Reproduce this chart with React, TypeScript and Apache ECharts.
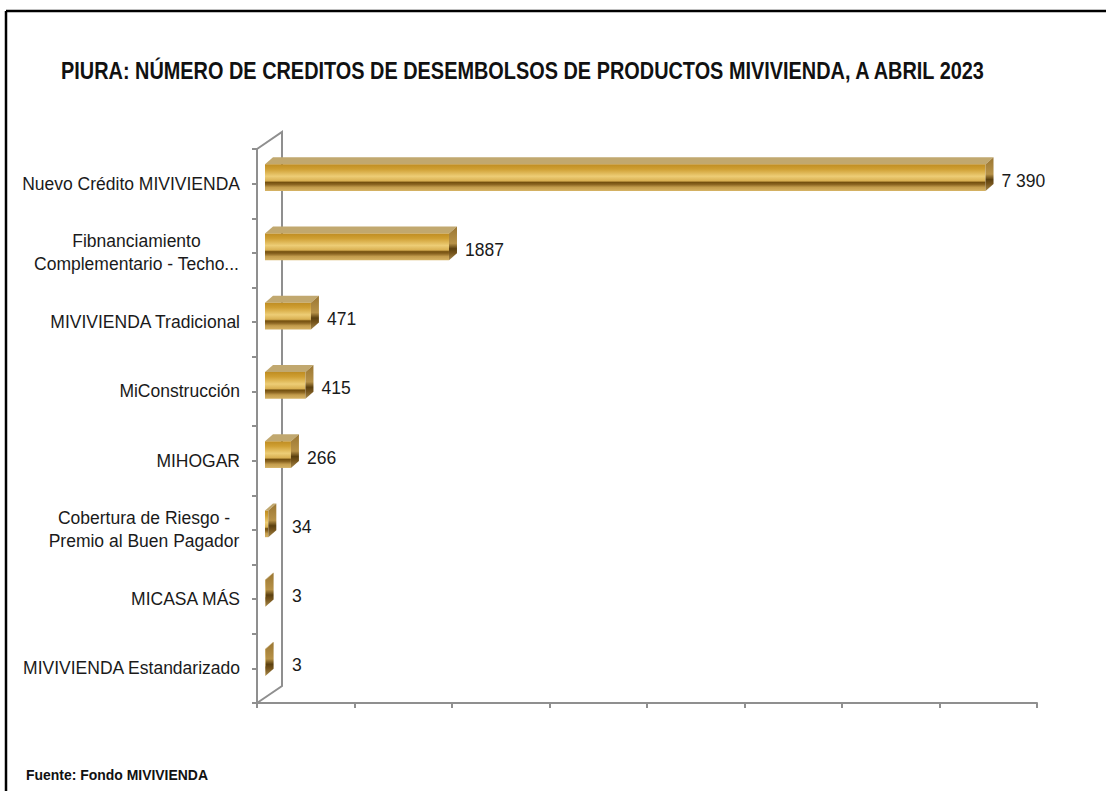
import React, { useEffect, useRef } from "react";
import * as echarts from "echarts";

// ---------- DATA ----------
const categories: string[] = [
  "Nuevo Crédito MIVIVIENDA",
  "Fibnanciamiento\nComplementario - Techo...",
  "MIVIVIENDA Tradicional",
  "MiConstrucción",
  "MIHOGAR",
  "Cobertura de Riesgo -\nPremio al Buen Pagador",
  "MICASA MÁS",
  "MIVIVIENDA Estandarizado",
];
const values: number[] = [7390, 1887, 471, 415, 266, 34, 3, 3];
const valueLabels: string[] = ["7 390", "1887", "471", "415", "266", "34", "3", "3"];
const axisMin = 0;
const axisMax = 8000;
const axisInterval = 1000;
const titleText = "PIURA: NÚMERO DE CREDITOS DE DESEMBOLSOS DE PRODUCTOS MIVIVIENDA, A ABRIL 2023";
const sourceText = "Fuente: Fondo MIVIVIENDA";

// ---------- LAYOUT / STYLE ----------
const W = 1106;
const H = 791;
const GRID_LEFT = 257;
const GRID_TOP = 149;
const GRID_W = 780;
const GRID_H = 554;
const WALL_DX = 25;
const WALL_DY = -17;
const BAR_FRONT_OFF = 8;
const BAR_DX = 8;
const BAR_DY = -7;
const BAR_RATIO = 0.385;
const BAR_LIFT = 6;
const AXIS_COLOR = "#8f8f8f";
const FONT = '"Liberation Sans", Arial, sans-serif';
const LABEL_SIZE = 17.5;

const frontGradient = {
  type: "linear",
  x: 0,
  y: 0,
  x2: 0,
  y2: 1,
  colorStops: [
    { offset: 0, color: "#bf8d22" },
    { offset: 0.18, color: "#cf9f33" },
    { offset: 0.45, color: "#edcd76" },
    { offset: 0.62, color: "#d9b052" },
    { offset: 0.68, color: "#74500f" },
    { offset: 0.76, color: "#8c6622" },
    { offset: 0.86, color: "#c39c4c" },
    { offset: 1, color: "#d6b365" },
  ],
};
const sideGradient = {
  type: "linear",
  x: 0,
  y: 0,
  x2: 0,
  y2: 1,
  colorStops: [
    { offset: 0, color: "#9a7632" },
    { offset: 0.5, color: "#b79248" },
    { offset: 0.66, color: "#5b400f" },
    { offset: 0.78, color: "#74531b" },
    { offset: 1, color: "#a6884a" },
  ],
};
const topColor = "#c1a86f";

function measure(text: string, size: number): number {
  const c = document.createElement("canvas");
  const ctx = c.getContext("2d");
  if (!ctx) return text.length * size * 0.5;
  ctx.font = `${size}px "Liberation Sans", Arial, sans-serif`;
  return ctx.measureText(text).width;
}

export default function App() {
  const ref = useRef<HTMLDivElement>(null);

  useEffect(() => {
    document.body.style.margin = "0";
    if (!ref.current) return;
    const chart = echarts.init(ref.current, null, { renderer: "svg" });

    const rich: Record<string, any> = {};
    categories.forEach((c, i) => {
      const lines = c.split("\n");
      const wMax = Math.max(...lines.map((l) => measure(l, LABEL_SIZE)));
      rich["c" + i] = {
        width: Math.ceil(wMax) + 1,
        align: "center",
        fontSize: LABEL_SIZE,
        fontFamily: FONT,
        color: "#1a1a1a",
        lineHeight: 23,
      };
    });

    const wallX = GRID_LEFT + WALL_DX;
    const bottomY = GRID_TOP + GRID_H;

    const option: any = {
      animation: false,
      backgroundColor: "#ffffff",
      grid: {
        left: GRID_LEFT,
        top: GRID_TOP,
        width: GRID_W,
        height: GRID_H,
        containLabel: false,
      },
      xAxis: {
        type: "value",
        position: "bottom",
        min: axisMin,
        max: axisMax,
        interval: axisInterval,
        axisLine: { show: true, onZero: false, lineStyle: { color: AXIS_COLOR, width: 2 } },
        axisTick: { show: true, length: 5, lineStyle: { color: AXIS_COLOR, width: 2 } },
        axisLabel: { show: false },
        splitLine: { show: false },
      },
      yAxis: [
        {
          type: "category",
          data: categories,
          inverse: true,
          position: "left",
          axisLine: { show: true, onZero: false, lineStyle: { color: AXIS_COLOR, width: 2 } },
          axisTick: { show: false },
          axisLabel: {
            margin: 17,
            fontSize: LABEL_SIZE,
            fontFamily: FONT,
            color: "#1a1a1a",
            lineHeight: 23,
            formatter: (v: string) => {
              const i = categories.indexOf(v);
              if (v.indexOf("\n") < 0) return v;
              return v
                .split("\n")
                .map((l) => `{c${i}|${l}}`)
                .join("\n");
            },
            rich,
          },
          splitLine: { show: false },
        },
        {
          type: "value",
          min: 0,
          max: categories.length * 2,
          interval: 1,
          inverse: true,
          position: "left",
          axisLine: { show: false, onZero: false },
          axisTick: { show: true, length: 5, lineStyle: { color: AXIS_COLOR, width: 2 } },
          axisLabel: { show: false },
          splitLine: { show: false },
        },
      ],
      series: [
        {
          type: "custom",
          z: 5,
          data: values.map((v, i) => [v, i]),
          encode: { x: 0, y: 1 },
          renderItem: (params: any, api: any) => {
            const idx = api.value(1);
            const val = api.value(0);
            const start = api.coord([0, idx]);
            const end = api.coord([val, idx]);
            const band = api.size([0, 1])[1];
            const bh = band * BAR_RATIO;
            const x0 = start[0] + BAR_FRONT_OFF;
            const x1 = Math.max(end[0] + BAR_FRONT_OFF, x0 + 0.6);
            const yc = start[1] - BAR_LIFT;
            const y0 = yc - bh / 2;
            const y1 = yc + bh / 2;
            const labelX = Math.max(x1 + BAR_DX + 8, GRID_LEFT + WALL_DX + 10);
            return {
              type: "group",
              children: [
                {
                  type: "polygon",
                  shape: {
                    points: [
                      [x0, y0],
                      [x1, y0],
                      [x1 + BAR_DX, y0 + BAR_DY],
                      [x0 + BAR_DX, y0 + BAR_DY],
                    ],
                  },
                  style: { fill: topColor },
                },
                {
                  type: "rect",
                  shape: { x: x0, y: y0, width: x1 - x0, height: bh },
                  style: { fill: frontGradient },
                },
                {
                  type: "polygon",
                  shape: {
                    points: [
                      [x1, y0],
                      [x1 + BAR_DX, y0 + BAR_DY],
                      [x1 + BAR_DX, y1 + BAR_DY],
                      [x1, y1],
                    ],
                  },
                  style: { fill: sideGradient },
                },
                {
                  type: "text",
                  x: labelX,
                  y: start[1] - 3,
                  style: {
                    text: valueLabels[params.dataIndex],
                    fontSize: LABEL_SIZE,
                    fontFamily: FONT,
                    fill: "#1a1a1a",
                    verticalAlign: "middle",
                    align: "left",
                  },
                },
              ],
            };
          },
        },
      ],
      graphic: [
        {
          type: "polyline",
          z: 0,
          shape: {
            points: [
              [GRID_LEFT, GRID_TOP],
              [wallX, GRID_TOP + WALL_DY],
              [wallX, bottomY + WALL_DY],
              [GRID_LEFT, bottomY],
            ],
          },
          style: { stroke: AXIS_COLOR, lineWidth: 2, fill: null },
        },
        {
          type: "line",
          shape: { x1: GRID_LEFT - 5, y1: bottomY, x2: GRID_LEFT, y2: bottomY },
          style: { stroke: AXIS_COLOR, lineWidth: 2 },
        },
        {
          type: "line",
          shape: { x1: 6, y1: 11, x2: W, y2: 11 },
          style: { stroke: "#000", lineWidth: 2.5 },
        },
        {
          type: "line",
          shape: { x1: 6, y1: 11, x2: 6, y2: H },
          style: { stroke: "#000", lineWidth: 2.5 },
        },
        {
          type: "text",
          x: 61,
          y: 72,
          scaleX: 0.865,
          style: {
            text: titleText,
            fontSize: 23,
            fontWeight: "bold",
            fontFamily: FONT,
            fill: "#111",
            verticalAlign: "middle",
          },
        },
        {
          type: "text",
          x: 26,
          y: 775,
          scaleX: 0.9,
          style: {
            text: sourceText,
            fontSize: 15.5,
            fontWeight: "bold",
            fontFamily: FONT,
            fill: "#111",
            verticalAlign: "middle",
          },
        },
      ],
    };

    chart.setOption(option);
    return () => chart.dispose();
  }, []);

  return <div ref={ref} style={{ width: W, height: H }} />;
}
